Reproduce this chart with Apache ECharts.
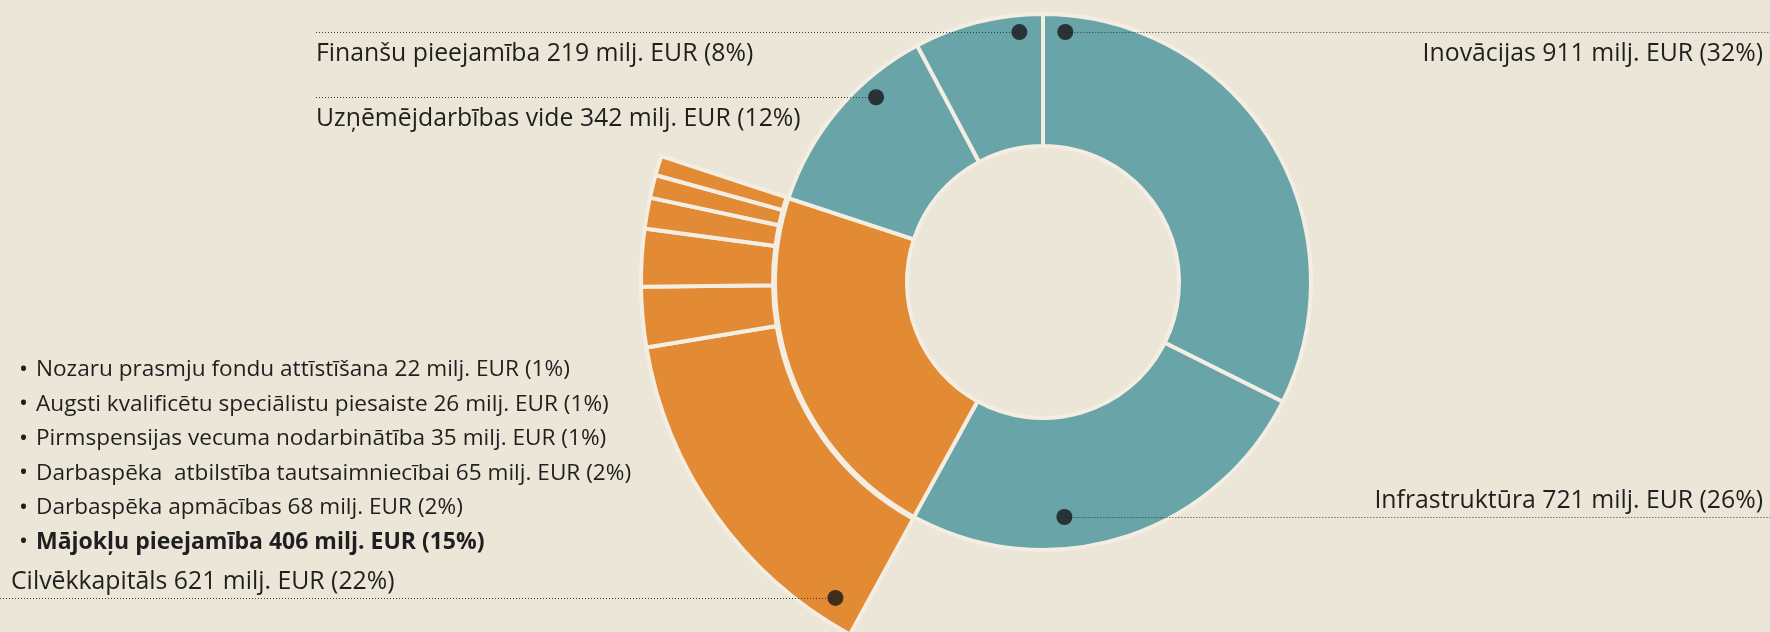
<!DOCTYPE html>
<html><head><meta charset="utf-8">
<script src="https://cdn.jsdelivr.net/npm/echarts@6/dist/echarts.min.js"></script>
<style>html,body{margin:0;padding:0;background:#ECE6D8}#c{width:1770px;height:632px}</style>
</head><body><div id="c"></div>
<script>
// ---- data ----
const categories = ['Inovācijas', 'Infrastruktūra', 'Cilvēkkapitāls', 'Uzņēmējdarbības vide', 'Finanšu pieejamība'];
const values = [911, 721, 621, 342, 219];
const shares = [32, 26, 22, 12, 8];
const subCategories = ['Mājokļu pieejamība', 'Darbaspēka apmācības', 'Darbaspēka  atbilstība tautsaimniecībai',
  'Pirmspensijas vecuma nodarbinātība', 'Augsti kvalificētu speciālistu piesaiste', 'Nozaru prasmju fondu attīstīšana'];
const subValues = [406, 68, 65, 35, 26, 22];
const subShares = [15, 2, 2, 1, 1, 1];
const parentIndex = 2; // Cilvēkkapitāls holds the sub items

// ---- layout / style ----
const W = 1770, H = 632;
const CX = 1043, CY = 282;
const BLUE = '#68A4A8', ORANGE = '#E38A35', SEP = '#F4EEE2', INK = '#1F1F1F';
const FONT = '"Open Sans", sans-serif';
// annotation anchors (radius px, angle deg clockwise from top) and label placement
const anchors = [
  {r: 251, a: 5.1, side: 'right', dy: 21.5},
  {r: 236, a: 174.8, side: 'right', dy: -16},
  {r: 378, a: 213.3, side: 'left', lineStart: 0, textX: 11, dy: -16},
  {r: 249, a: 317.9, side: 'left', lineStart: 316, textX: 316, dy: 21.5},
  {r: 251, a: 354.6, side: 'left', lineStart: 316, textX: 316, dy: 21.5}
];
const listTop = 370, listStep = 34.5, listX = 36, bulletX = 19;

const label = (n, v, s) => n + ' ' + v + ' milj. EUR (' + s + '%)';
const colorOf = i => (i === parentIndex ? ORANGE : BLUE);

const innerData = categories.map((n, i) => ({name: n, value: values[i], itemStyle: {color: colorOf(i)}}));
const before = values.slice(0, parentIndex).reduce((a, b) => a + b, 0);
const after = values.slice(parentIndex + 1).reduce((a, b) => a + b, 0);
const blank = {color: 'rgba(0,0,0,0)', borderWidth: 0};
const outerData = [{name: '_a', value: before, itemStyle: blank}]
  .concat(subCategories.map((n, i) => ({name: n, value: subValues[i], itemStyle: {color: ORANGE}})))
  .concat([{name: '_b', value: after, itemStyle: blank}]);

const chart = echarts.init(document.getElementById('c'), null, {renderer: 'canvas'});

const graphics = [];
anchors.forEach((an, i) => {
  const rad = an.a * Math.PI / 180;
  const x = CX + an.r * Math.sin(rad), y = CY - an.r * Math.cos(rad);
  const x1 = an.side === 'right' ? x : an.lineStart;
  const x2 = an.side === 'right' ? W : x;
  graphics.push({type: 'line', z: 50, silent: true,
    shape: {x1: x1, y1: Math.round(y) + 0.5, x2: x2, y2: Math.round(y) + 0.5},
    style: {stroke: '#3a3a3a', lineWidth: 1, lineDash: [1, 2]}});
  graphics.push({type: 'text', z: 60, silent: true,
    x: an.side === 'right' ? W - 7 : an.textX, y: y + an.dy,
    style: {text: label(categories[i], values[i], shares[i]), fill: INK, font: '24.8px ' + FONT,
      align: an.side === 'right' ? 'right' : 'left', verticalAlign: 'middle'}});
});
// sub list, top to bottom = last sub item first
for (let k = 0; k < subCategories.length; k++) {
  const i = subCategories.length - 1 - k;
  const y = listTop + k * listStep;
  const bold = i === 0;
  graphics.push({type: 'text', silent: true, x: bulletX, y: y,
    style: {text: '•', fill: INK, font: '24px ' + FONT, verticalAlign: 'middle'}});
  graphics.push({type: 'text', silent: true, x: listX, y: y,
    style: {text: label(subCategories[i], subValues[i], subShares[i]), fill: INK,
      font: (bold ? 'bold 23px ' : '22.6px ') + FONT, verticalAlign: 'middle'}});
}

chart.setOption({
  backgroundColor: '#ECE6D8',
  animation: false,
  polar: {center: [CX, CY], radius: [0, 400]},
  angleAxis: {type: 'value', min: 0, max: 360, startAngle: 90, clockwise: true, show: false},
  radiusAxis: {type: 'value', min: 0, max: 400, show: false},
  series: [
    {type: 'pie', center: [CX, CY], radius: [136, 268], startAngle: 90, clockwise: true, silent: true,
      label: {show: false}, labelLine: {show: false},
      itemStyle: {borderColor: SEP, borderWidth: 4}, data: innerData},
    {type: 'pie', center: [CX, CY], radius: [270, 402], startAngle: 90, clockwise: true, silent: true,
      label: {show: false}, labelLine: {show: false},
      itemStyle: {borderColor: SEP, borderWidth: 4}, data: outerData},
    {type: 'scatter', coordinateSystem: 'polar', silent: true, z: 70,
      symbol: 'circle', symbolSize: 16, itemStyle: {color: '#161616'},
      data: anchors.map(an => [an.r, an.a])}
  ],
  graphic: graphics
});
</script></body></html>
